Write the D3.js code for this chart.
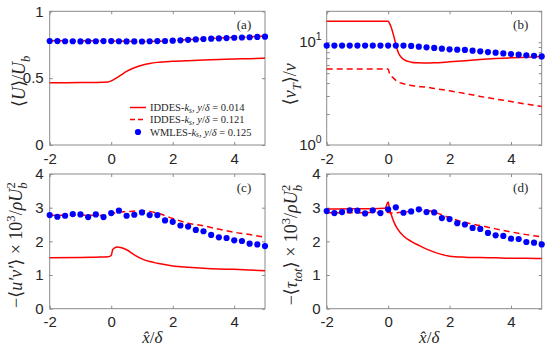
<!DOCTYPE html>
<meta charset="utf-8">
<script src="https://d3js.org/d3.v7.min.js"></script>
<style>
  body { margin: 0; background: #fff; }
  text { fill: #262626; }
</style>
<div id="chart"></div>
<script>

// x positions of the WMLES markers and of the IDDES curves
var xDots = [-2, -1.75, -1.5, -1.25, -1, -0.75, -0.5, -0.25, 0, 0.25, 0.5, 0.75, 1, 1.25, 1.5,
             1.75, 2, 2.25, 2.5, 2.75, 3, 3.25, 3.5, 3.75, 4, 4.25, 4.5, 4.75, 5];
var xLine = [-2, -1, -0.5, -0.1, 0, 0.05, 0.1, 0.2, 0.3, 0.5, 0.75, 1, 1.25, 1.5, 2, 2.5, 3, 3.5, 4, 4.5, 5];

// (a) <U>/Ub
var solidA = [0.466, 0.467, 0.468, 0.472, 0.48, 0.485, 0.492, 0.505, 0.52, 0.55, 0.578, 0.597, 0.61, 0.618, 0.626, 0.631, 0.635, 0.639, 0.643, 0.646, 0.65];
var dashA  = [0.78, 0.78, 0.78, 0.78, 0.78, 0.779, 0.778, 0.778, 0.777, 0.776, 0.775, 0.775, 0.775, 0.776, 0.78, 0.788, 0.795, 0.8, 0.805, 0.81, 0.815];
var dotsA  = [0.778, 0.777, 0.776, 0.776, 0.775, 0.776, 0.776, 0.777, 0.777, 0.776, 0.775, 0.775, 0.774, 0.776, 0.777,
              0.778, 0.78, 0.783, 0.787, 0.79, 0.793, 0.795, 0.797, 0.8, 0.802, 0.804, 0.806, 0.808, 0.81];

// (b) <nu_T>/nu
var solidB = [16, 16, 16, 16, 16, 15.2, 14, 11, 8.4, 6.8, 6.4, 6.3, 6.27, 6.3, 6.45, 6.62, 6.78, 6.93, 7.05, 7.15, 7.25];
var dashB  = [5.5, 5.5, 5.5, 5.5, 5.5, 4.9, 4.7, 4.4, 4.15, 3.95, 3.8, 3.72, 3.65, 3.55, 3.37, 3.17, 2.97, 2.8, 2.65, 2.5, 2.37];
var dotsB  = [9.27, 9.27, 9.27, 9.27, 9.27, 9.27, 9.27, 9.27, 9.27, 9.27, 9.27, 9.2, 9.06, 8.93, 8.8,
              8.66, 8.54, 8.47, 8.41, 8.28, 8.15, 8.03, 7.91, 7.79, 7.68, 7.56, 7.45, 7.39, 7.28];

// (c) -<u'v'> x 10^3
var solidC = [1.51, 1.52, 1.53, 1.54, 1.58, 1.76, 1.8, 1.83, 1.82, 1.75, 1.6, 1.48, 1.4, 1.35, 1.27, 1.23, 1.2, 1.18, 1.17, 1.15, 1.13];
var dashC  = [2.77, 2.78, 2.77, 2.78, 2.8, 2.82, 2.84, 2.86, 2.87, 2.88, 2.9, 2.91, 2.89, 2.84, 2.68, 2.54, 2.46, 2.36, 2.27, 2.2, 2.12];
var dotsC  = [2.78, 2.73, 2.76, 2.81, 2.8, 2.72, 2.8, 2.72, 2.84, 2.91, 2.76, 2.79, 2.86, 2.78, 2.78,
              2.62, 2.58, 2.47, 2.44, 2.34, 2.3, 2.19, 2.12, 2.1, 2.03, 2.01, 1.93, 1.91, 1.86];

// (d) -<tau_tot> x 10^3
var solidD = [2.96, 2.97, 2.97, 2.98, 3.17, 2.95, 2.8, 2.55, 2.38, 2.16, 2.0, 1.88, 1.77, 1.68, 1.56, 1.53, 1.52, 1.51, 1.5, 1.5, 1.49];
var dashD  = [2.85, 2.85, 2.86, 2.86, 2.86, 2.85, 2.84, 2.84, 2.85, 2.87, 2.9, 2.93, 2.92, 2.87, 2.7, 2.56, 2.47, 2.37, 2.28, 2.2, 2.13];
var dotsD  = [2.9, 2.84, 2.87, 2.92, 2.91, 2.83, 2.92, 2.84, 2.95, 3.01, 2.85, 2.89, 2.95, 2.87, 2.86,
              2.69, 2.66, 2.54, 2.5, 2.4, 2.37, 2.25, 2.18, 2.16, 2.08, 2.07, 1.98, 1.96, 1.91];

var xTicks = [-2, 0, 2, 4];

var W = 550, H = 352;
var svg = d3.select("#chart").append("svg")
    .attr("width", W)
    .attr("height", H)
    .style("font-family", "'Liberation Sans', Arial, sans-serif");

var SERIF = "'Liberation Serif', 'DejaVu Serif', serif";

// writes a label made of pieces: {t, i (italic), sub, sup, dx}
function rich(sel, parts, size, subk) {
    var shift = 0;
    subk = subk || 0.28;
    parts.forEach(function (p) {
        var target = p.sub ? size * subk : (p.sup ? -size * 0.4 : 0);
        var ts = sel.append("tspan").text(p.t)
            .attr("dy", target - shift)
            .style("font-size", (p.sub || p.sup) ? (size * 0.7) + "px" : size + "px");
        if (p.dx) ts.attr("dx", p.dx);
        if (p.i) ts.style("font-style", "italic");
        shift = target;
    });
}

function panel(opt) {
    var g = svg.append("g").attr("transform", "translate(" + opt.left + "," + opt.top + ")");
    var w = opt.w, h = opt.h;

    var x = d3.scaleLinear().domain([-2, 5]).range([0, w]);
    var y = opt.log
        ? d3.scaleLog().domain([1, 20]).range([h, 0])
        : d3.scaleLinear().domain(opt.ydom).range([h, 0]);

    // box + inward ticks on all four sides
    var tickColor = "#8a8a8a";
    var tl = 3;
    function style(a) {
        a.select(".domain").remove();
        a.selectAll(".tick line").attr("stroke", tickColor);
        a.selectAll(".tick text").style("font-size", "15px").attr("fill", "#262626");
    }
    g.append("g").attr("transform", "translate(0," + h + ")")
        .call(d3.axisBottom(x).tickValues(xTicks).tickSize(-tl).tickPadding(8)
            .tickFormat(function (d) { return d < 0 ? "-" + Math.abs(d) : d; }))
        .call(style);
    g.append("g")
        .call(d3.axisTop(x).tickValues(xTicks).tickSize(-tl).tickFormat(""))
        .call(style);

    var yTicks = opt.log ? [1, 2, 3, 4, 5, 6, 7, 8, 9, 10, 20] : opt.yticks;
    g.append("g")
        .call(d3.axisLeft(y).tickValues(yTicks).tickSize(-tl).tickPadding(6)
            .tickFormat(opt.log ? function () { return ""; } : opt.yfmt))
        .call(style);
    g.append("g").attr("transform", "translate(" + w + ",0)")
        .call(d3.axisRight(y).tickValues(yTicks).tickSize(-tl).tickFormat(""))
        .call(style);
    if (opt.log) {
        [1, 10].forEach(function (v, k) {
            var t = g.append("text").attr("x", -5).attr("y", y(v) + 5)
                .attr("text-anchor", "end").style("font-size", "15px");
            t.append("tspan").text("10");
            t.append("tspan").text(k).attr("dy", -7).style("font-size", "10.5px");
        });
    }

    g.append("rect").attr("width", w).attr("height", h)
        .attr("fill", "none").attr("stroke", tickColor).attr("stroke-width", 1);

    var line = d3.line()
        .x(function (d, i) { return x(xLine[i]); })
        .y(function (d) { return y(d); })
        .curve(d3.curveMonotoneX);

    g.append("path").attr("d", line(opt.solid))
        .attr("fill", "none").attr("stroke", "#ff0000").attr("stroke-width", 1.5);
    g.append("path").attr("d", line(opt.dash))
        .attr("fill", "none").attr("stroke", "#ff0000").attr("stroke-width", 1.5)
        .attr("stroke-dasharray", "6,4");

    g.selectAll("circle.dot").data(opt.dots).enter().append("circle")
        .attr("class", "dot")
        .attr("cx", function (d, i) { return x(xDots[i]); })
        .attr("cy", function (d) { return y(d); })
        .attr("r", 3.1)
        .attr("fill", "#0000ff");

    g.append("text").attr("x", w - 21).attr("y", 18)
        .attr("text-anchor", "middle")
        .style("font-family", SERIF).style("font-size", "13px")
        .text("(" + opt.tag + ")");

    // y label
    var yt = g.append("text")
        .attr("transform", "translate(" + opt.ylx + "," + opt.yly + ") rotate(-90)")
        .attr("text-anchor", "middle")
        .style("font-family", SERIF);
    rich(yt, opt.ylabel, opt.ylsize);

    if (opt.xlabel) {
        var xt = g.append("text").attr("x", w / 2 - 5).attr("y", h + 34)
            .attr("text-anchor", "middle")
            .style("font-family", SERIF).style("font-size", "17px");
        xt.append("tspan").text("x\u0302").style("font-style", "italic");
        xt.append("tspan").text("/");
        xt.append("tspan").text("\u03b4").style("font-style", "italic");
    }
}

panel({
    tag: "a", left: 49.7, top: 11.3, w: 215.3, h: 133.7,
    ydom: [0, 1], yticks: [0, 0.5, 1], yfmt: function (d) { return d; },
    solid: solidA, dash: dashA, dots: dotsA,
    ylx: -25, yly: 70, ylsize: 18,
    ylabel: [{t: "\u27e8"}, {t: "U", i: true}, {t: "\u27e9/"}, {t: "U", i: true}, {t: "b", i: true, sub: true}]
});
panel({
    tag: "b", left: 326.7, top: 11.3, w: 215, h: 133.7, log: true,
    solid: solidB, dash: dashB, dots: dotsB,
    ylx: -31, yly: 73, ylsize: 18,
    ylabel: [{t: "\u27e8"}, {t: "\u03bd", i: true}, {t: "T", i: true, sub: true}, {t: "\u27e9/"}, {t: "\u03bd", i: true}]
});
panel({
    tag: "c", left: 49.7, top: 174, w: 215.3, h: 134.7,
    ydom: [0, 4], yticks: [0, 1, 2, 3, 4], yfmt: function (d) { return d; },
    solid: solidC, dash: dashC, dots: dotsC,
    ylx: -28, yly: 71, xlabel: true, ylsize: 18,
    ylabel: [{t: "\u2212\u27e8"}, {t: "u\u2032v\u2032", i: true}, {t: "\u27e9 \u00d7 10"}, {t: "3", sup: true},
             {t: "/"}, {t: "\u03c1U", i: true}, {t: "b", i: true, sub: true}, {t: "2", sup: true, dx: -6}]
});
panel({
    tag: "d", left: 326.7, top: 174, w: 215, h: 134.7,
    ydom: [0, 4], yticks: [0, 1, 2, 3, 4], yfmt: function (d) { return d; },
    solid: solidD, dash: dashD, dots: dotsD,
    ylx: -30, yly: 71, xlabel: true, ylsize: 18,
    ylabel: [{t: "\u2212\u27e8"}, {t: "\u03c4", i: true}, {t: "tot", i: true, sub: true}, {t: "\u27e9 \u00d7 10"}, {t: "3", sup: true},
             {t: "/"}, {t: "\u03c1U", i: true}, {t: "b", i: true, sub: true}, {t: "2", sup: true, dx: -6}]
});

// legend inside panel (a)
var legendNames = ["0.014", "0.121", "0.125"];
var legendKinds = ["solid", "dash", "dot"];
var lg = svg.append("g");
legendKinds.forEach(function (k, i) {
    var ly = [107.5, 119.5, 132][i];
    if (k === "dot") {
        lg.append("circle").attr("cx", 138).attr("cy", ly).attr("r", 3.1).attr("fill", "#0000ff");
    } else {
        lg.append("line").attr("x1", 130).attr("x2", 146).attr("y1", ly).attr("y2", ly)
            .attr("stroke", "#ff0000").attr("stroke-width", 1.5)
            .attr("stroke-dasharray", k === "dash" ? "5,3" : null);
    }
    var t = lg.append("text").attr("x", 150).attr("y", ly + 3.5)
        .style("font-family", SERIF);
    rich(t, [{t: i < 2 ? "IDDES-" : "WMLES-"}, {t: "k", i: true}, {t: "s", i: true, sub: true},
             {t: ", "}, {t: "y", i: true}, {t: "/"}, {t: "\u03b4", i: true}, {t: " = " + legendNames[i]}], 10.5, 0.18);
});
</script>
